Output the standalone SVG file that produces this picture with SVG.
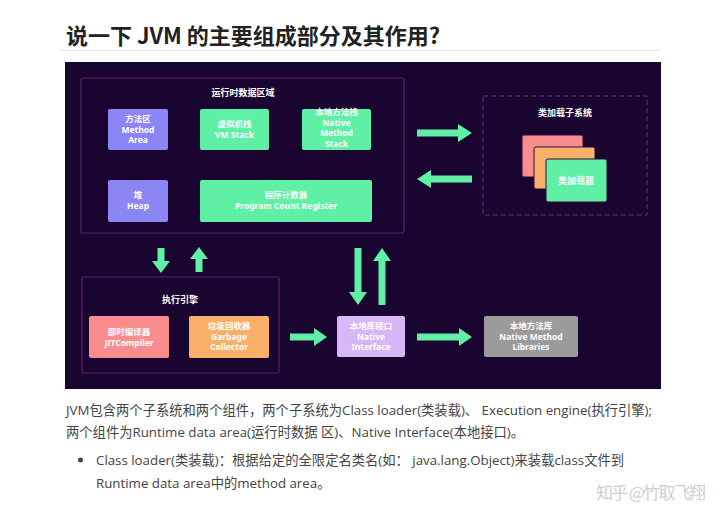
<svg xmlns="http://www.w3.org/2000/svg" width="720" height="519" viewBox="0 0 720 519">
<style>
.t{font-family:"Noto Sans CJK SC","Noto Sans",sans-serif;}
.bx{font-family:"Noto Sans","Noto Sans CJK SC",sans-serif;font-size:8.5px;font-weight:bold;fill:#ffffff;text-anchor:middle;}
.hd{font-family:"Noto Sans CJK SC",sans-serif;font-size:9px;font-weight:bold;fill:#ffffff;text-anchor:middle;}
.body{font-family:"Open Sans","Noto Sans CJK SC",sans-serif;font-size:13.3px;fill:#444444;}
.arr{fill:#5ff0a6;}
.grp{fill:none;stroke:#5a1f6e;stroke-width:1.2;}
</style>
<rect width="720" height="519" fill="#ffffff"/>
<text class="t" x="66" y="44" font-size="22" font-weight="bold" fill="#222222">说一下 JVM 的主要组成部分及其作用?</text>
<line x1="60" y1="50.5" x2="660" y2="50.5" stroke="#e6e6e6" stroke-width="1"/>
<rect x="65" y="62" width="596" height="327" fill="#1a0530"/>

<g id="runtime-data-area">
<rect class="grp" x="81" y="78" width="323" height="155" rx="2"/>
<text class="hd" x="243" y="96">运行时数据区域</text>
</g>
<g id="method-area">
<rect x="108" y="109" width="60" height="41" rx="2" fill="#8b86f4"/>
<text class="bx" x="138" y="122">方法区</text><text class="bx" x="138" y="132.5">Method</text><text class="bx" x="138" y="143">Area</text>
</g>
<g id="vm-stack">
<rect x="200" y="109" width="69" height="41" rx="2" fill="#5ff0a6"/>
<text class="bx" x="234.5" y="127">虚拟机栈</text><text class="bx" x="234.5" y="137.5">VM Stack</text>
</g>
<g id="native-method-stack">
<rect x="302" y="109" width="69" height="41" rx="2" fill="#5ff0a6"/>
<text class="bx" x="336.5" y="115">本地方法栈</text><text class="bx" x="336.5" y="125.5">Native</text><text class="bx" x="336.5" y="136">Method</text><text class="bx" x="336.5" y="146.5">Stack</text>
</g>
<g id="heap">
<rect x="108" y="180" width="60" height="42" rx="2" fill="#8b86f4"/>
<text class="bx" x="138" y="198">堆</text><text class="bx" x="138" y="209">Heap</text>
</g>
<g id="program-count-register">
<rect x="200" y="180" width="172" height="42" rx="2" fill="#5ff0a6"/>
<text class="bx" x="286" y="198">程序计数器</text><text class="bx" x="286" y="209">Program Count Register</text>
</g>

<g id="class-loader-subsystem">
<rect x="483" y="96" width="164" height="119" fill="none" stroke="#6a2a78" stroke-width="1" stroke-dasharray="5,3"/>
<text class="hd" x="565" y="116">类加载子系统</text>
<rect x="522" y="135" width="61" height="42" rx="2" fill="#f98c8c" stroke="#2a0a3a" stroke-width="1"/>
<rect x="534" y="147" width="61" height="42" rx="2" fill="#fbb06a" stroke="#2a0a3a" stroke-width="1"/>
<rect x="546" y="159" width="61" height="43" rx="2" fill="#5ff0a6" stroke="#2a0a3a" stroke-width="1"/>
<text class="hd" x="576" y="184">类加载器</text>
</g>

<g id="execution-engine">
<rect class="grp" x="82" y="277" width="197" height="96" rx="2"/>
<text class="hd" x="180" y="303">执行引擎</text>
</g>
<g id="jit-compiler">
<rect x="89" y="316" width="80" height="42" rx="2" fill="#f98c8c"/>
<text class="bx" x="129" y="335">即时编译器</text><text class="bx" x="129" y="346">JITCompiler</text>
</g>
<g id="garbage-collector">
<rect x="189" y="316" width="80" height="42" rx="2" fill="#fbb06a"/>
<text class="bx" x="229" y="329">垃圾回收器</text><text class="bx" x="229" y="339.5">Garbage</text><text class="bx" x="229" y="350">Collector</text>
</g>
<g id="native-interface">
<rect x="337" y="316" width="68" height="41" rx="2" fill="#d6b8f8"/>
<text class="bx" x="371" y="329">本地库接口</text><text class="bx" x="371" y="339.5">Native</text><text class="bx" x="371" y="350">Interface</text>
</g>
<g id="native-method-libraries">
<rect x="484" y="316" width="94" height="41" rx="2" fill="#9b9b9b"/>
<text class="bx" x="531" y="329">本地方法库</text><text class="bx" x="531" y="339.5">Native Method</text><text class="bx" x="531" y="350">Libraries</text>
</g>

<g id="connectors">
<polygon class="arr" points="417,129.5 458,129.5 458,124 472,133 458,142 458,136.5 417,136.5"/>
<polygon class="arr" points="472,175.5 431,175.5 431,170 417,179 431,188 431,182.5 472,182.5"/>
<polygon class="arr" points="157.5,248 164.5,248 164.5,261 170,261 161,273 152,261 157.5,261"/>
<polygon class="arr" points="195.5,272 202.5,272 202.5,259 208,259 199,247 190,259 195.5,259"/>
<polygon class="arr" points="354.5,248 361.5,248 361.5,292 367,292 358,305 349,292 354.5,292"/>
<polygon class="arr" points="378.5,305 385.5,305 385.5,261 391,261 382,248 373,261 378.5,261"/>
<polygon class="arr" points="290,333.5 314,333.5 314,328 327,337 314,346 314,340.5 290,340.5"/>
<polygon class="arr" points="417,333.5 459,333.5 459,328 472,337 459,346 459,340.5 417,340.5"/>
</g>

<text class="body" x="66" y="415">JVM包含两个子系统和两个组件，两个子系统为Class loader(类装载)、 Execution engine(执行引擎);</text>
<text class="body" x="66" y="437">两个组件为Runtime data area(运行时数据 区)、Native Interface(本地接口)。</text>
<circle cx="80.5" cy="460" r="2.5" fill="#444444"/>
<text class="body" x="96" y="465">Class loader(类装载)：根据给定的全限定名类名(如： java.lang.Object)来装载class文件到</text>
<text class="body" x="96" y="488">Runtime data area中的method area。</text>
<text class="t" x="596" y="499" font-size="17" fill="#cfcfcf" textLength="110">知乎 @竹取飞翔</text>
</svg>
